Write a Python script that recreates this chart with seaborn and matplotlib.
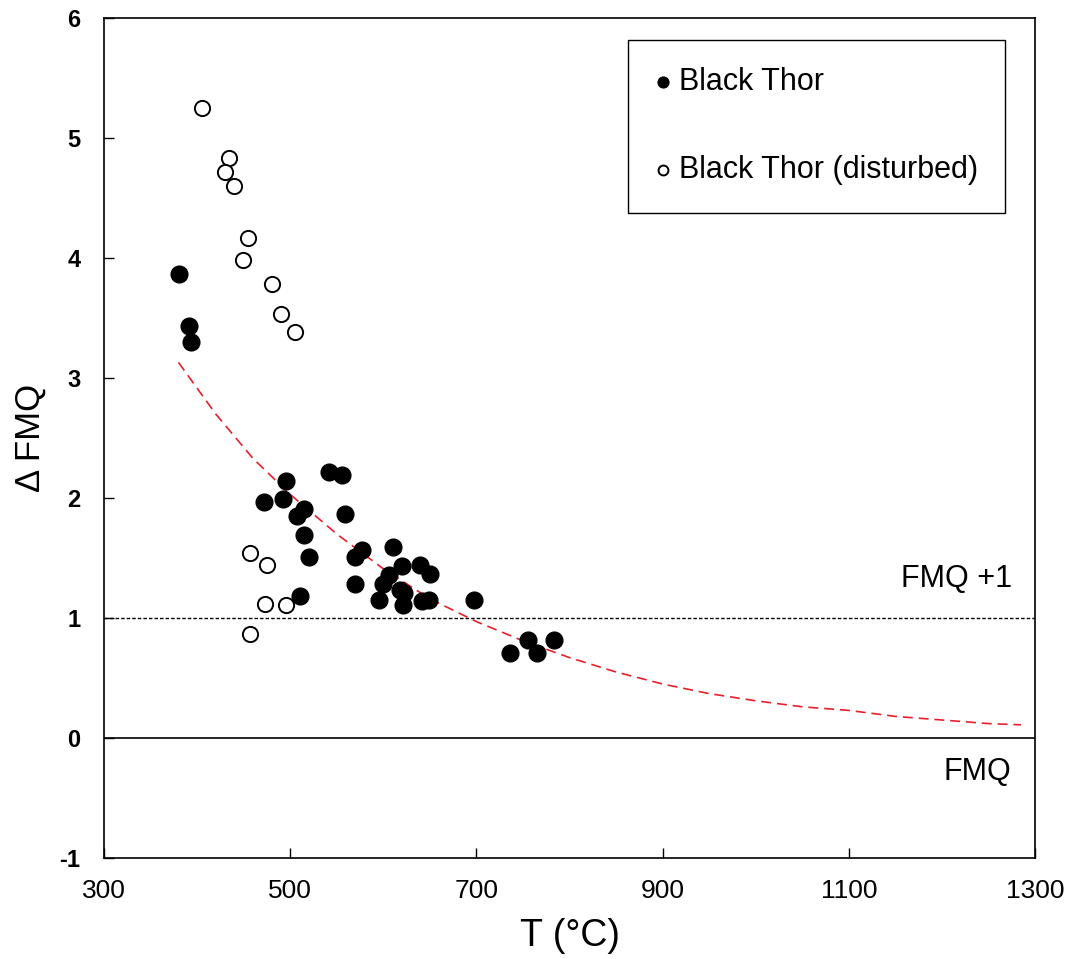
import matplotlib
matplotlib.use("Agg")
import matplotlib.pyplot as plt
import seaborn as sns
import pandas as pd

# Black Thor (filled)
bt_T = [381, 391, 393, 472, 492, 496, 507, 511, 515, 515, 520, 542, 556, 559,
        570, 570, 577, 595, 600, 606, 610, 618, 620, 621, 622, 639, 642, 649,
        650, 697, 736, 755, 765, 783]
bt_dFMQ = [3.87, 3.43, 3.30, 1.97, 1.99, 2.14, 1.85, 1.18, 1.91, 1.69, 1.51, 2.22,
           2.19, 1.87, 1.51, 1.28, 1.57, 1.15, 1.28, 1.36, 1.59, 1.23, 1.43, 1.11,
           1.21, 1.44, 1.14, 1.15, 1.37, 1.15, 0.71, 0.82, 0.71, 0.82]

# Black Thor (disturbed, open)
dist_T = [405, 434, 430, 440, 455, 449, 480, 490, 505, 457, 475, 473, 496, 457]
dist_dFMQ = [5.25, 4.83, 4.72, 4.60, 4.17, 3.98, 3.78, 3.53, 3.38, 1.54, 1.44,
             1.12, 1.11, 0.87]

# Red dashed reference curve
curve_T = [380, 420, 460, 500, 550, 600, 650, 700, 750, 800, 850, 900, 950,
           1000, 1050, 1100, 1150, 1200, 1250, 1285]
curve_dFMQ = [3.13, 2.70, 2.33, 2.03, 1.70, 1.41, 1.16, 0.97, 0.81, 0.67, 0.55,
              0.45, 0.37, 0.31, 0.26, 0.23, 0.18, 0.15, 0.12, 0.11]

sns.set_style("ticks")
plt.rcParams['font.family'] = ['Liberation Sans', 'DejaVu Sans']
plt.rcParams['axes.unicode_minus'] = False
plt.rcParams['text.color'] = 'black'
plt.rcParams['axes.labelcolor'] = 'black'
plt.rcParams['xtick.color'] = 'black'
plt.rcParams['ytick.color'] = 'black'
plt.rcParams['axes.edgecolor'] = 'black'

fig = plt.figure(figsize=(10.76, 9.59), dpi=100)
ax = fig.add_axes([104/1076, 1-858/959, (1035-104)/1076, (858-18)/959])

df_bt = pd.DataFrame({"T": bt_T, "d": bt_dFMQ})
df_dist = pd.DataFrame({"T": dist_T, "d": dist_dFMQ})
df_curve = pd.DataFrame({"T": curve_T, "d": curve_dFMQ})

ax.axhline(0, color="black", lw=1.2, zorder=1)
ax.axhline(1, color="black", lw=1.0, ls=(0, (2.5, 1.5)), zorder=1)

sns.lineplot(data=df_curve, x="T", y="d", ax=ax, color="#e8202a", lw=1.2,
             linestyle=(0, (6, 3.5)), zorder=2)

sns.scatterplot(data=df_bt, x="T", y="d", ax=ax, s=150, color="black",
                edgecolor="black", linewidth=0.8, zorder=3, label="Black Thor")
sns.scatterplot(data=df_dist, x="T", y="d", ax=ax, s=120, facecolor="white",
                edgecolor="black", linewidth=1.4, zorder=3,
                label="Black Thor (disturbed)")

ax.set_xlim(300, 1300)
ax.set_ylim(-1, 6)
ax.set_xticks([300, 500, 700, 900, 1100, 1300])
ax.set_yticks([-1, 0, 1, 2, 3, 4, 5, 6])
ax.tick_params(direction="in", length=7, width=1)
ax.tick_params(axis="x", labelsize=19, pad=15)
ax.tick_params(axis="y", labelsize=17, pad=17)
for lab in ax.get_yticklabels():
    lab.set_fontweight("bold")
for sp in ax.spines.values():
    sp.set_linewidth(1.2)

ax.set_xlabel("T (°C)", fontsize=27, labelpad=11)
ax.set_ylabel("Δ FMQ", fontsize=25, labelpad=9)

ax.text(1275, 1.26, "FMQ +1", fontsize=22, ha="right", va="baseline")
ax.text(1275, -0.35, "FMQ", fontsize=22, ha="right", va="baseline")

leg = ax.legend(loc="upper right", bbox_to_anchor=(0.968, 0.974), fontsize=22,
                markerscale=0.65, frameon=True, fancybox=False, framealpha=1,
                edgecolor="black", labelspacing=1.9, handletextpad=0.25,
                handlelength=0.5, borderpad=0.9, borderaxespad=0)
leg.get_frame().set_linewidth(1.0)

fig.savefig("out.png", dpi=100)
